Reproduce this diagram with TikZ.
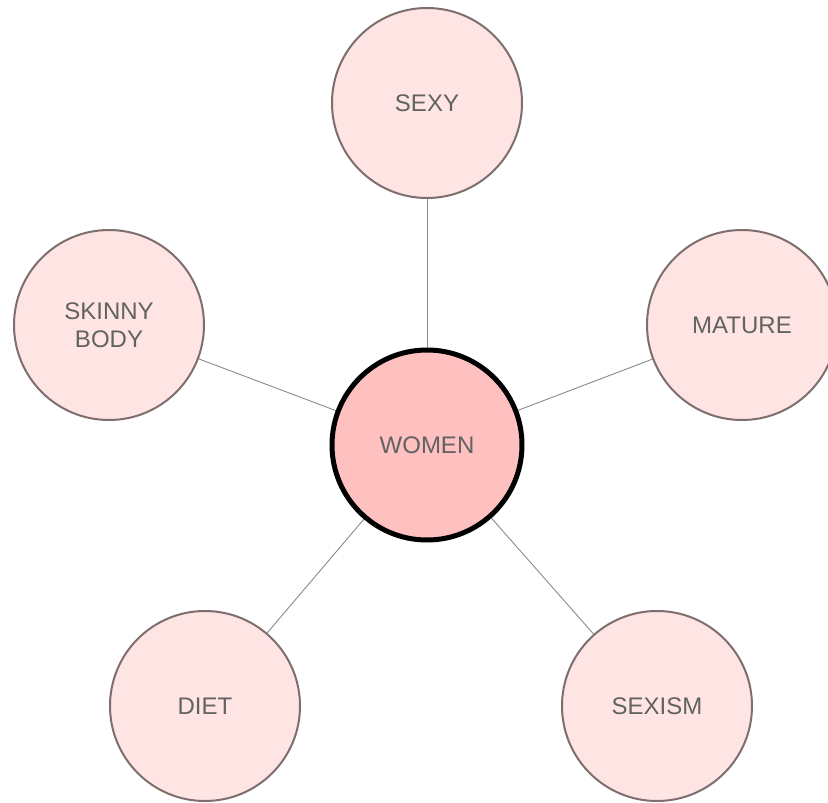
\documentclass[tikz,border=0pt]{standalone}
\usepackage{fontspec}
\setmainfont{Liberation Sans}
\definecolor{outerfill}{HTML}{FFE4E4}
\definecolor{innerfill}{HTML}{FFC0C0}
\definecolor{outerdraw}{HTML}{7E6E6E}
\definecolor{txtcol}{HTML}{626262}
\definecolor{linkcol}{HTML}{8A8A8A}
\begin{document}
\begin{tikzpicture}[x=1pt,y=-1pt,
  bubble/.style={circle, minimum size=190pt, inner sep=0pt, fill=outerfill, draw=outerdraw, line width=2pt,
    text=txtcol, font=\fontsize{24}{28.5}\selectfont, align=center},
  hub/.style={circle, minimum size=190pt, inner sep=0pt, fill=innerfill, draw=black, line width=5pt,
    text=txtcol, font=\fontsize{24}{28.5}\selectfont, align=center},
  link/.style={draw=linkcol, line width=0.9pt}]
\useasboundingbox (0,0) rectangle (828,803);
\clip (0,0) rectangle (828,803);
\fill[white] (0,0) rectangle (828,803);
\coordinate (cw) at (427,445);
\coordinate (cs) at (427,103);
\coordinate (ck) at (109,325);
\coordinate (cm) at (742,325);
\coordinate (cd) at (205,706);
\coordinate (cx) at (657,706);
\draw[link] (cw) -- (cs);
\draw[link] (cw) -- (ck);
\draw[link] (cw) -- (cm);
\draw[link] (cw) -- (cd);
\draw[link] (cw) -- (cx);
\node[bubble] (sexy) at (cs) {SEXY};
\node[bubble] (skinny) at (ck) {SKINNY\\BODY};
\node[bubble] (mature) at (cm) {MATURE};
\node[bubble] (diet) at (cd) {DIET};
\node[bubble] (sexism) at (cx) {SEXISM};
\node[hub] (women) at (cw) {WOMEN};
\end{tikzpicture}
\end{document}
